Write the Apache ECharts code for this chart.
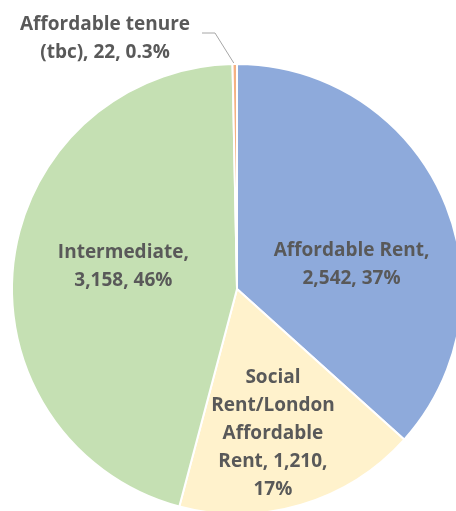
<!DOCTYPE html>
<html>
<head>
<meta charset="utf-8">
<style>
  html, body { margin: 0; padding: 0; background: #fff; }
  #chart { width: 456px; height: 511px; }
</style>
<script src="https://cdn.jsdelivr.net/npm/echarts@6/dist/echarts.min.js"></script>
</head>
<body>
<div id="chart"></div>
<script>
// tenure categories, clockwise from 12 o'clock
var categories = ['Affordable Rent', 'Social Rent/London Affordable Rent', 'Intermediate', 'Affordable tenure (tbc)']
var units = [2542, 1210, 3158, 22]
var percents = ['37%', '17%', '46%', '0.3%']
var labelTexts = [
  'Affordable Rent,\n2,542, 37%',
  'Social\nRent/London\nAffordable\nRent, 1,210,\n17%',
  'Intermediate,\n3,158, 46%',
  'Affordable tenure\n(tbc), 22, 0.3%'
]
var colors = ['#8eaadb', '#fff2cc', '#c5e0b3', '#f4b183']
// nudges for the inside labels so they sit where the original put them
var labelOffsets = [[9, 23], [3, 34], [1, -9], [0, 0]]

var chart = echarts.init(document.getElementById('chart'))

var seriesData = categories.map(function (name, i) {
  return {
    name: name,
    value: units[i],
    itemStyle: { color: colors[i] },
    label: {
      position: i === 3 ? 'outside' : 'inside',
      formatter: labelTexts[i],
      offset: labelOffsets[i]
    },
    labelLine: { show: i === 3 }
  }
})

chart.setOption({
  animation: false,
  series: [{
    type: 'pie',
    center: [237, 289],
    radius: 225,
    startAngle: 90,
    clockwise: true,
    avoidLabelOverlap: false,
    itemStyle: { borderColor: '#fff', borderWidth: 2 },
    label: {
      show: true,
      color: '#595959',
      fontFamily: 'Open Sans',
      fontWeight: 'bold',
      fontSize: 19,
      lineHeight: 28,
      align: 'center'
    },
    labelLine: { lineStyle: { color: '#a6a6a6', width: 1 } },
    // the tiny tbc slice gets its label pulled out to the upper left
    labelLayout: function (params) {
      if (params.dataIndex !== 3) return {}
      return {
        x: 105,
        y: 39,
        align: 'center',
        verticalAlign: 'middle',
        labelLinePoints: [[235, 65], [215, 33], [202, 33]]
      }
    },
    data: seriesData
  }]
})
</script>
</body>
</html>
